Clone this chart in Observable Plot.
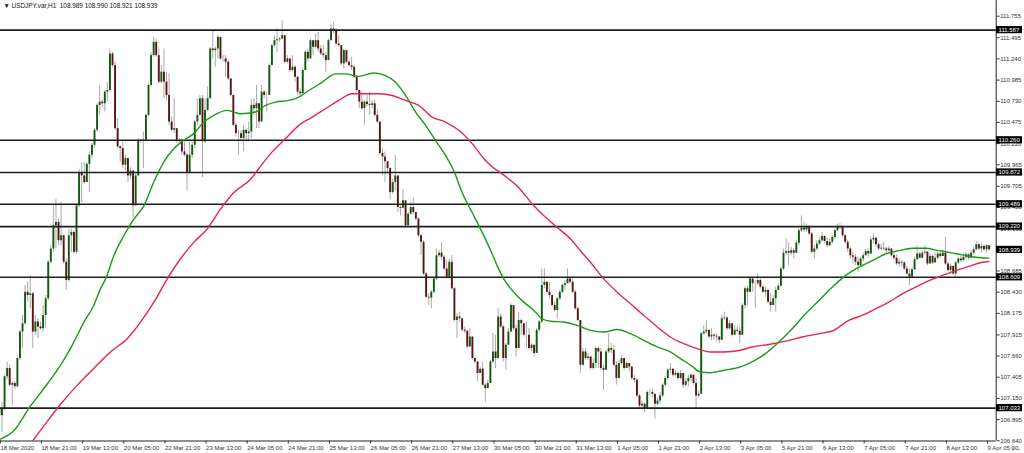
<!DOCTYPE html>
<html><head><meta charset="utf-8">
<script src="https://cdn.jsdelivr.net/npm/d3@7"></script>
<script src="https://cdn.jsdelivr.net/npm/@observablehq/plot@0.6"></script>
<style>
html,body{margin:0;padding:0;background:#fff;}
#chart svg{display:block;}
</style></head><body><div id="chart"></div>
<script>
// ---- data (USDJPY.var, H1) ----
const symbol = "USDJPY.var,H1";
const lastOHLC = [108.989, 108.990, 108.921, 108.939];
const firstOpen = 107.02;

const closes = [
106.94,107.02,107.41,107.51,107.31,107.33,107.29,107.63,107.95,108.05,
108.43,108.39,108.41,107.95,108.07,108.01,107.99,108.15,108.35,108.79,
108.95,109.23,109.27,109.05,109.11,108.79,108.57,109.11,109.15,108.91,
109.47,109.87,109.83,109.75,109.97,110.08,110.20,110.38,110.68,110.72,
110.70,110.84,110.86,111.30,111.16,110.40,110.18,110.16,109.96,110.04,
109.83,109.89,109.47,109.83,110.26,110.25,110.26,110.56,110.92,111.28,
111.44,111.28,110.96,111.08,110.96,110.80,110.48,110.38,110.40,110.26,
110.26,110.12,110.08,109.87,110.08,110.20,110.48,110.56,110.76,110.24,
110.62,110.76,111.36,111.34,111.36,111.50,111.24,111.24,111.20,111.00,
110.80,110.44,110.34,110.34,110.28,110.38,110.34,110.36,
110.68,110.64,110.70,110.48,110.84,110.80,110.80,111.16,111.40,111.46,
111.47,111.48,111.52,111.20,111.24,111.10,111.14,111.02,110.84,110.82,
111.10,111.32,111.24,111.46,111.38,111.46,111.36,111.30,111.28,111.22,
111.46,111.60,111.58,111.42,111.40,111.18,111.34,111.20,111.16,111.14,
111.02,110.86,110.72,110.64,110.72,110.69,110.68,110.70,110.56,110.48,
110.10,110.06,110.00,109.92,109.63,109.75,109.83,109.45,109.44,109.53,
109.23,109.37,109.45,109.39,109.31,109.11,109.03,108.65,108.37,108.36,
108.43,108.59,108.87,108.90,108.85,108.71,108.61,108.79,108.47,108.09,
108.13,108.11,107.97,107.96,107.77,107.89,107.63,107.59,107.45,107.50,
107.31,107.27,107.33,107.59,107.71,
107.63,108.13,108.01,107.63,107.79,107.95,108.27,107.99,107.75,108.09,
108.05,107.91,107.91,107.75,107.79,107.69,107.97,108.07,108.51,108.55,
108.43,108.39,108.27,108.21,108.35,108.43,108.51,108.53,108.59,108.55,
108.43,108.23,108.09,107.55,107.71,107.63,107.65,107.51,107.57,107.75,
107.71,107.51,107.49,107.71,107.75,107.73,107.55,107.39,107.57,107.63,
107.51,107.57,107.53,107.39,107.37,107.18,107.06,107.08,107.02,107.22,
107.22,107.20,107.08,107.12,107.18,107.31,107.39,107.49,107.50,107.43,
107.45,107.39,107.45,107.31,107.35,107.39,107.43,107.33,107.18,107.20,
107.93,107.95,107.97,107.89,107.91,107.90,107.89,107.85,108.11,108.12,
107.99,108.05,107.91,107.97,107.96,
107.91,108.27,108.47,108.43,108.59,108.53,108.53,108.57,108.49,108.43,
108.45,108.31,108.27,108.35,108.45,108.50,108.71,108.90,108.92,108.90,
108.93,108.90,109.02,109.17,109.20,109.18,109.21,109.13,108.91,108.95,
109.01,109.05,109.10,109.04,108.99,109.03,109.09,109.17,109.22,109.22,
109.11,109.03,108.95,108.87,108.85,108.79,108.75,108.83,108.87,108.92,
108.89,109.06,109.08,109.00,108.95,108.96,108.95,108.93,108.95,108.87,
108.84,108.77,108.79,108.78,108.71,108.65,108.61,108.70,108.82,108.89,
108.84,108.90,108.91,108.77,108.86,108.78,108.84,108.89,108.86,108.90,
108.77,108.69,108.74,108.65,108.78,108.83,108.81,108.85,108.88,108.84,
108.90,108.94,109.00,108.95,108.98,108.94,108.99,108.94
];

const highs = [
107.02,107.10,107.43,107.59,107.55,107.35,107.35,107.65,107.97,108.15,
108.51,108.55,108.63,108.43,108.15,108.11,108.07,108.27,108.39,108.81,
108.99,109.47,109.55,109.31,109.51,109.11,108.83,109.19,109.19,109.17,
109.49,109.91,109.99,109.99,109.99,110.12,110.22,110.40,110.70,110.92,
110.74,110.86,110.96,111.36,111.32,111.20,110.52,110.20,110.24,110.08,
110.04,109.93,109.89,109.87,110.28,110.27,110.36,110.58,110.94,111.32,
111.50,111.48,111.36,111.16,111.36,111.08,111.06,110.54,110.76,110.38,
110.28,110.28,110.24,110.10,110.24,110.24,110.50,110.76,110.80,110.80,
110.76,110.90,111.38,111.58,111.38,111.52,111.50,111.28,111.28,111.22,
110.98,110.80,110.46,110.38,110.38,110.44,110.40,110.48,
110.76,110.76,110.92,110.64,110.92,110.86,110.84,111.18,111.42,111.52,
111.60,111.50,111.70,111.52,111.28,111.24,111.28,111.16,111.02,110.88,
111.12,111.34,111.36,111.48,111.44,111.54,111.56,111.40,111.40,111.32,
111.48,111.66,111.68,111.60,111.52,111.38,111.36,111.34,111.22,111.26,
111.16,111.04,110.86,110.84,110.74,110.80,110.84,110.74,110.74,110.62,
110.48,110.16,110.12,109.97,109.93,109.79,110.08,109.83,109.47,109.67,
109.53,109.39,109.51,109.57,109.39,109.33,109.13,109.05,108.67,108.41,
108.45,108.61,108.95,108.93,109.03,108.87,108.81,108.83,108.87,108.49,
108.17,108.19,108.11,108.01,107.97,107.99,107.79,107.65,107.59,107.53,
107.59,107.33,107.37,107.61,107.93,
107.91,108.23,108.17,108.03,107.81,107.99,108.29,108.27,108.03,108.19,
108.11,108.05,108.07,107.99,107.81,107.79,107.99,108.09,108.71,108.71,
108.55,108.55,108.39,108.31,108.37,108.45,108.53,108.57,108.71,108.61,
108.59,108.45,108.25,108.09,107.75,107.75,107.69,107.65,107.63,107.77,
107.77,107.75,107.55,107.73,107.93,107.81,107.79,107.59,107.61,107.67,
107.63,107.59,107.57,107.53,107.43,107.39,107.20,107.12,107.10,107.24,
107.26,107.26,107.20,107.16,107.22,107.33,107.41,107.51,107.57,107.51,
107.49,107.47,107.49,107.45,107.39,107.43,107.45,107.43,107.39,107.24,
107.95,108.03,108.09,107.97,107.99,107.93,107.93,107.89,108.15,108.19,
108.13,108.09,108.03,108.03,108.01,
108.01,108.29,108.49,108.51,108.61,108.59,108.57,108.65,108.59,108.51,
108.49,108.47,108.41,108.39,108.49,108.53,108.73,108.95,109.07,109.03,
108.97,108.95,109.05,109.19,109.35,109.27,109.25,109.23,109.15,108.99,
109.05,109.09,109.15,109.11,109.08,109.07,109.11,109.19,109.25,109.26,
109.23,109.13,109.06,108.97,108.91,108.89,108.85,108.85,108.90,108.95,
108.95,109.09,109.13,109.09,109.03,109.01,109.03,108.97,108.98,108.93,
108.90,108.88,108.83,108.81,108.80,108.74,108.71,108.73,108.85,108.99,
108.91,108.93,108.99,108.92,108.89,108.88,108.90,108.91,108.93,108.93,
109.09,108.79,108.77,108.75,108.80,108.85,108.86,108.89,108.91,108.89,
108.93,108.97,109.04,109.01,109.01,109.00,109.00,108.99
];

const lows = [
106.78,106.74,107.00,107.37,107.29,107.06,107.25,107.27,107.61,107.75,
108.03,108.31,108.23,107.75,107.91,107.87,107.97,107.95,107.99,108.33,
108.77,108.91,108.95,108.99,108.99,108.77,108.45,108.55,108.91,108.89,
108.89,109.45,109.51,109.73,109.75,109.63,110.04,110.16,110.36,110.56,
110.66,110.60,110.72,110.84,111.14,110.38,110.16,110.00,109.92,109.88,
109.75,109.79,109.33,109.79,109.83,110.22,109.92,110.24,110.54,110.90,
111.26,111.26,110.94,110.94,110.76,110.74,110.44,110.36,110.34,110.22,
110.22,110.08,110.06,109.65,109.85,110.04,110.16,110.44,110.56,109.81,
110.22,110.60,110.76,111.24,111.14,111.24,111.22,111.20,111.02,110.98,
110.78,110.42,110.30,110.08,110.24,110.12,110.26,110.24,
110.28,110.56,110.40,110.40,110.48,110.76,110.60,110.80,111.16,111.38,
111.32,111.44,111.48,111.18,111.18,111.08,111.08,110.96,110.80,110.78,
110.84,111.10,111.20,111.24,111.28,111.36,111.32,111.28,111.24,111.08,
111.22,111.46,111.54,111.40,111.38,111.16,111.12,111.18,111.14,111.10,
111.00,110.84,110.64,110.62,110.44,110.66,110.56,110.64,110.54,110.46,
110.08,109.83,109.75,109.87,109.55,109.61,109.65,109.39,109.35,109.45,
109.21,109.23,109.36,109.36,109.29,109.09,108.87,108.63,108.35,108.27,
108.23,108.41,108.57,108.85,108.81,108.69,108.59,108.71,108.45,108.07,
107.87,108.07,107.95,107.93,107.75,107.81,107.61,107.57,107.35,107.47,
107.29,107.10,107.29,107.33,107.57,
107.51,107.63,107.99,107.59,107.49,107.79,107.95,107.97,107.65,107.75,
107.91,107.89,107.75,107.73,107.71,107.65,107.69,107.95,108.05,108.47,
108.41,108.35,108.25,108.19,108.11,108.33,108.41,108.45,108.53,108.53,
108.41,108.21,108.07,107.45,107.53,107.61,107.61,107.49,107.49,107.51,
107.51,107.49,107.25,107.49,107.69,107.69,107.53,107.31,107.39,107.55,
107.49,107.51,107.47,107.37,107.33,107.16,107.02,107.04,106.98,107.02,
107.18,107.16,106.90,107.06,107.08,107.16,107.29,107.37,107.45,107.41,
107.41,107.37,107.37,107.27,107.29,107.29,107.35,107.31,107.02,107.16,
107.20,107.91,107.93,107.87,107.85,107.85,107.83,107.81,107.85,108.09,
107.97,107.97,107.89,107.93,107.93,
107.81,107.97,108.23,108.27,108.43,108.43,108.23,108.51,108.47,108.41,
108.37,108.29,108.19,108.27,108.19,108.45,108.49,108.69,108.87,108.75,
108.87,108.83,108.91,108.99,109.15,109.15,109.15,109.11,108.89,108.83,
108.93,108.99,109.03,109.01,108.97,108.97,109.01,109.06,109.16,109.18,
109.09,109.01,108.91,108.83,108.77,108.75,108.67,108.73,108.79,108.87,
108.85,108.91,109.01,108.97,108.93,108.93,108.93,108.89,108.89,108.85,
108.81,108.75,108.73,108.73,108.69,108.63,108.51,108.61,108.69,108.81,
108.83,108.83,108.88,108.75,108.79,108.76,108.81,108.82,108.84,108.86,
108.75,108.67,108.65,108.63,108.61,108.76,108.79,108.81,108.82,108.82,
108.84,108.88,108.93,108.93,108.90,108.92,108.90,108.92
];

// moving averages (bar position, price)
const greenMaBar = [0.43,5.6,12.1,17.3,23.8,28.3,32.9,36.7,39.3,41.3,44.5,48.4,52.3,56.2,60.1,64,67.9,71.7,75.6,79.5,83.4,88.6,91.2,93.8,99.6,103.5,107.4,112.6,116.5,120.4,125.6,130.7,134.6,139.8,145.6,150.2,154.1,158,161.9,165.8,169.6,173.5,176.8,180,183.9,187.8,191.7,193.6,196.2,200.1,204,207.9,211.1,214.4,219.6,224.7,229.9,235.1,240.3,245.5,250.7,255.9,261,264.9,268.9,272.7,276.6,281.8,288.3,292.8,298,303.2,308.4,313.6,318.8,323.3,329.1,334.3,339.5,344.7,349.9,355.1,360.3,365.4,369.3,374.5,379.7,384.9];
const greenMa = [106.66,106.76,107.06,107.27,107.55,107.79,108.07,108.27,108.47,108.59,108.87,109.11,109.31,109.47,109.76,110.00,110.16,110.26,110.34,110.48,110.56,110.62,110.60,110.58,110.60,110.68,110.72,110.74,110.78,110.86,110.96,111.06,111.06,111.03,111.07,111.04,110.96,110.80,110.60,110.44,110.26,110.08,109.89,109.63,109.39,109.15,108.89,108.75,108.59,108.43,108.31,108.21,108.11,108.08,108.07,108.03,107.97,107.95,107.98,107.93,107.85,107.77,107.71,107.63,107.55,107.47,107.46,107.49,107.53,107.59,107.69,107.83,107.99,108.17,108.33,108.47,108.63,108.73,108.81,108.89,108.93,108.96,108.96,108.93,108.91,108.88,108.85,108.84];
const redMaBar = [12.5,17.3,23.8,30.3,36.7,43.2,49.7,54.9,60.1,65.3,70.4,75.6,80.8,86,91.2,97.7,100.9,106.1,111.3,116.5,121.7,126.8,132,137.2,142.4,147.6,152.8,158,163.1,168.3,173.5,178.7,183.9,189,191,196.2,201.4,207.9,211.8,217,222.2,226,229.9,235.1,240.3,245.5,250.7,255.9,261,266.2,271.4,276.6,281.8,288.3,292.8,299.3,305.8,312.3,318.8,324.6,330.4,335.6,340.8,346,351.2,356.4,361.6,366.7,371.9,377.1,382.3,384.9];
const redMa = [106.62,106.82,107.08,107.31,107.51,107.71,107.87,108.07,108.31,108.59,108.83,109.03,109.19,109.43,109.63,109.79,109.92,110.12,110.28,110.44,110.54,110.64,110.74,110.82,110.82,110.82,110.80,110.74,110.68,110.54,110.48,110.38,110.22,110.02,109.96,109.84,109.71,109.47,109.35,109.21,109.07,108.93,108.79,108.59,108.43,108.29,108.15,108.01,107.89,107.81,107.75,107.71,107.71,107.73,107.77,107.80,107.84,107.89,107.93,107.97,108.09,108.15,108.23,108.31,108.41,108.49,108.57,108.63,108.69,108.74,108.79,108.80];

// horizontal levels and price labels
const levels = [111.587, 110.260, 109.872, 109.489, 109.220, 108.609, 107.033];
const currentPrice = 108.939;
const yTicks = [111.755,111.495,111.240,110.985,110.730,110.475,110.220,109.965,109.705,109.450,109.195,108.940,108.685,108.430,108.175,107.915,107.660,107.405,107.150,106.895,106.640];
const xTickLabels = ["18 Mar 2020","18 Mar 21:00","19 Mar 13:00","20 Mar 05:00","22 Mar 21:00","23 Mar 13:00","24 Mar 05:00","24 Mar 21:00","25 Mar 13:00","26 Mar 05:00","26 Mar 21:00","27 Mar 13:00","30 Mar 05:00","30 Mar 21:00","31 Mar 13:00","1 Apr 05:00","1 Apr 21:00","2 Apr 13:00","3 Apr 05:00","5 Apr 21:00","6 Apr 13:00","7 Apr 05:00","7 Apr 21:00","8 Apr 13:00","9 Apr 05:00"];
const barsPerLabel = 16;

// ---- build tables ----
const n = Math.min(closes.length, highs.length, lows.length);
const bars = [];
for (let i = 0; i < n; i++) {
  const o = i === 0 ? firstOpen : closes[i - 1];
  const c = closes[i];
  bars.push({i, o, c, h: Math.max(highs[i], o, c), l: Math.min(lows[i], o, c)});
}
const green = greenMaBar.map((b, k) => ({i: b, v: greenMa[k]}));
const red = redMaBar.map((b, k) => ({i: b, v: redMa[k]}));
const xTicks = xTickLabels.map((_, k) => k * barsPerLabel);
const fmt = d3.format(".3f");
const titleText = "\u25BC " + symbol + "  " + lastOHLC.map(fmt).join(" ");

const xDomain = [0.428, 387.75];
const yDomain = [106.637, 111.944];
const font = "'Liberation Sans', Arial, sans-serif";

const plot = Plot.plot({
  width: 1024,
  height: 453,
  marginTop: 0,
  marginBottom: 12.5,
  marginLeft: 0,
  marginRight: 28.3,
  style: {background: "#ffffff", fontFamily: font, fontSize: "6px", color: "#333"},
  x: {domain: xDomain, axis: null},
  y: {domain: yDomain, axis: null},
  marks: [
    Plot.ruleX(bars, {x: "i", y1: "l", y2: "h", stroke: "#a9a9a9", strokeWidth: 1, clip: true}),
    Plot.ruleX(bars.filter(d => d.c >= d.o), {x: "i", y1: "o", y2: "c", stroke: "#0e5a0e", strokeWidth: 1.9, clip: true}),
    Plot.ruleX(bars.filter(d => d.c < d.o), {x: "i", y1: "o", y2: "c", stroke: "#5a1414", strokeWidth: 1.9, clip: true}),
    Plot.ruleY(levels, {y: d => d, stroke: "#1e1e1e", strokeWidth: 1.6}),
    Plot.line(green, {x: "i", y: "v", stroke: "#179c17", strokeWidth: 1.4, curve: "monotone-x", clip: true}),
    Plot.line(red, {x: "i", y: "v", stroke: "#e6264c", strokeWidth: 1.4, curve: "monotone-x", clip: true}),
    Plot.ruleX([xDomain[1]], {stroke: "#222", strokeWidth: 1}),
    Plot.ruleY([yDomain[0]], {stroke: "#222", strokeWidth: 1}),
    Plot.axisY(yTicks, {anchor: "right", tickSize: 3, tickPadding: 1, tickFormat: fmt, fontSize: 6, fill: "#333", stroke: "#333"}),
    Plot.axisX(xTicks, {anchor: "bottom", tickSize: 3, tickPadding: 1.5, tickFormat: i => xTickLabels[i / barsPerLabel], textAnchor: "start", dx: 1, fontSize: 6, fill: "#333", stroke: "#333"}),
    Plot.text([titleText], {frameAnchor: "top-left", dx: 3, dy: 3, fontSize: 6.4, fill: "#111", lineAnchor: "top", textAnchor: "start"})
  ]
});

// price label boxes on the right axis, positioned with the plot's own y scale
const ys = plot.scale("y");
const svg = d3.select(plot);
const g = svg.append("g")
  .attr("font-family", font)
  .attr("font-size", 6)
  .attr("text-anchor", "start");
for (const v of [...levels, currentPrice]) {
  const y = ys.apply(v);
  g.append("rect").attr("x", 996).attr("y", y - 3.6).attr("width", 26).attr("height", 7.2).attr("fill", "#000");
  g.append("text").attr("x", 998.5).attr("y", y).attr("dy", "0.36em")
    .attr("text-anchor", "start").attr("fill", "#fff").text(fmt(v));
}
document.getElementById("chart").appendChild(plot);
</script>
</body></html>
